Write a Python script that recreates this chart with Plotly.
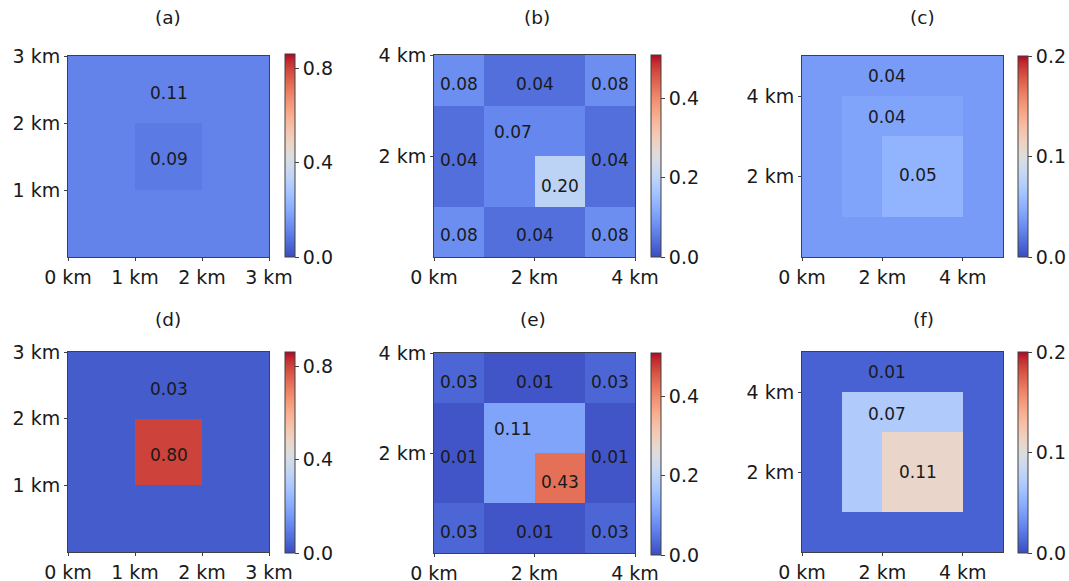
import plotly.graph_objects as go

# ---------------- data ----------------
panel_titles = ["(a)", "(b)", "(c)", "(d)", "(e)", "(f)"]

# grid values (rows listed bottom -> top, 1 km cells)
grid_a = [[0.11, 0.11, 0.11],
          [0.11, 0.09, 0.11],
          [0.11, 0.11, 0.11]]
grid_b = [[0.08, 0.04, 0.04, 0.08],
          [0.04, 0.07, 0.20, 0.04],
          [0.04, 0.07, 0.07, 0.04],
          [0.08, 0.04, 0.04, 0.08]]
grid_c = [[0.038, 0.038, 0.038, 0.038, 0.038],
          [0.038, 0.043, 0.053, 0.053, 0.038],
          [0.038, 0.043, 0.053, 0.053, 0.038],
          [0.038, 0.043, 0.043, 0.043, 0.038],
          [0.038, 0.038, 0.038, 0.038, 0.038]]
grid_d = [[0.03, 0.03, 0.03],
          [0.03, 0.80, 0.03],
          [0.03, 0.03, 0.03]]
grid_e = [[0.03, 0.01, 0.01, 0.03],
          [0.01, 0.11, 0.43, 0.01],
          [0.01, 0.11, 0.11, 0.01],
          [0.03, 0.01, 0.01, 0.03]]
grid_f = [[0.01, 0.01, 0.01, 0.01, 0.01],
          [0.01, 0.07, 0.11, 0.11, 0.01],
          [0.01, 0.07, 0.11, 0.11, 0.01],
          [0.01, 0.07, 0.07, 0.07, 0.01],
          [0.01, 0.01, 0.01, 0.01, 0.01]]

# value labels: (text, x km, y km)
labels_a = [("0.11", 1.5, 2.45), ("0.09", 1.5, 1.46)]
labels_b = [("0.08", 0.5, 3.42), ("0.04", 2.0, 3.42), ("0.08", 3.5, 3.42),
            ("0.07", 1.58, 2.47), ("0.04", 0.5, 1.93), ("0.04", 3.5, 1.93),
            ("0.20", 2.5, 1.41),
            ("0.08", 0.5, 0.43), ("0.04", 2.0, 0.43), ("0.08", 3.5, 0.43)]
labels_c = [("0.04", 2.125, 4.5), ("0.04", 2.125, 3.48), ("0.05", 2.875, 2.03)]
labels_d = [("0.03", 1.5, 2.45), ("0.80", 1.5, 1.46)]
labels_e = [("0.03", 0.5, 3.42), ("0.01", 2.0, 3.42), ("0.03", 3.5, 3.42),
            ("0.11", 1.58, 2.48), ("0.01", 0.5, 1.93), ("0.01", 3.5, 1.93),
            ("0.43", 2.5, 1.42),
            ("0.03", 0.5, 0.43), ("0.01", 2.0, 0.43), ("0.03", 3.5, 0.43)]
labels_f = [("0.01", 2.125, 4.5), ("0.07", 2.125, 3.46), ("0.11", 2.875, 1.99)]

# axis ticks (km)
xticks_3 = [0, 1, 2, 3]
yticks_3 = [1, 2, 3]
xticks_45 = [0, 2, 4]
yticks_45 = [2, 4]

# colour bar ranges and ticks
vmax_list = [0.86, 0.51, 0.2, 0.86, 0.51, 0.2]
cbar_ticks = [[0.0, 0.4, 0.8], [0.0, 0.2, 0.4], [0.0, 0.1, 0.2],
              [0.0, 0.4, 0.8], [0.0, 0.2, 0.4], [0.0, 0.1, 0.2]]

# matplotlib-like coolwarm
coolwarm_rgb = [(59, 76, 192), (68, 90, 204), (77, 104, 215), (87, 117, 225), (98, 130, 234),
                (108, 142, 241), (119, 154, 247), (130, 165, 251), (141, 176, 254), (152, 185, 255),
                (163, 194, 255), (174, 201, 253), (184, 208, 249), (194, 213, 244), (204, 217, 238),
                (213, 219, 230), (221, 221, 221), (229, 216, 209), (236, 211, 197), (241, 204, 185),
                (245, 196, 173), (247, 187, 160), (247, 177, 148), (247, 166, 135), (244, 154, 123),
                (241, 141, 111), (236, 127, 99), (229, 112, 88), (222, 96, 77), (213, 80, 66),
                (203, 62, 56), (192, 40, 47), (180, 4, 38)]
coolwarm = [[i / (len(coolwarm_rgb) - 1), "rgb(%d,%d,%d)" % c] for i, c in enumerate(coolwarm_rgb)]

# ---------------- layout (pixels, page coordinates) ----------------
W, H = 1069, 581
FONT = "DejaVu Sans"
TXT = "#1a1a1a"
LINE = "#404040"
TICK_SIZE = 19
LABEL_SIZE = 17
TITLE_SIZE = 18.5

grids = [grid_a, grid_b, grid_c, grid_d, grid_e, grid_f]
labels = [labels_a, labels_b, labels_c, labels_d, labels_e, labels_f]
xticks = [xticks_3, xticks_45, xticks_45, xticks_3, xticks_45, xticks_45]
yticks = [yticks_3, yticks_45, yticks_45, yticks_3, yticks_45, yticks_45]

# plot boxes: (x0, x1, ytop, ybottom) in page pixels
boxes = [(68, 269, 56, 257), (434, 635, 55, 257), (802, 1003, 56, 257),
         (68, 269, 352, 552), (434, 635, 353, 553), (802, 1003, 352, 552)]
cbar_x = [285, 651, 1018, 285, 651, 1018]
cbar_y = [(54, 257), (55, 257), (56, 257), (352, 553), (353, 555), (352, 553)]
title_pos = [(168, 17), (537, 17), (922, 17), (168, 319), (533, 319), (923, 319)]


def px(x):
    return x / W


def py(y):
    return 1 - y / H


fig = go.Figure()
layout = dict(width=W, height=H, margin=dict(l=0, r=0, t=0, b=0, autoexpand=False),
              paper_bgcolor="white", plot_bgcolor="white",
              font=dict(family=FONT, color=TXT, size=TICK_SIZE), showlegend=False)
annotations = []

for i in range(6):
    g = grids[i]
    n = len(g)
    centers = [k + 0.5 for k in range(n)]
    xa = "x" if i == 0 else "x%d" % (i + 1)
    ya = "y" if i == 0 else "y%d" % (i + 1)
    ca = "coloraxis" if i == 0 else "coloraxis%d" % (i + 1)
    fig.add_trace(go.Heatmap(z=g, x=centers, y=centers, xaxis=xa, yaxis=ya,
                             coloraxis=ca, hoverinfo="skip"))
    x0, x1, yt, yb = boxes[i]
    axkw = dict(showgrid=False, zeroline=False, showline=True, mirror=True,
                linecolor=LINE, linewidth=1, ticks="outside", ticklen=3,
                tickcolor=LINE, tickfont=dict(size=TICK_SIZE, color=TXT, family=FONT),
                range=[0, n], fixedrange=True, automargin=False)
    xkey = "xaxis" if i == 0 else "xaxis%d" % (i + 1)
    ykey = "yaxis" if i == 0 else "yaxis%d" % (i + 1)
    layout[xkey] = dict(axkw, domain=[px(x0), px(x1)], anchor=ya,
                        tickvals=xticks[i], ticktext=["%d km" % t for t in xticks[i]])
    layout[ykey] = dict(axkw, domain=[py(yb), py(yt)], anchor=xa,
                        tickvals=yticks[i], ticktext=["%d km" % t for t in yticks[i]])
    cy0, cy1 = cbar_y[i]
    layout[ca] = dict(cmin=0, cmax=vmax_list[i], colorscale=coolwarm,
                      colorbar=dict(x=px(cbar_x[i]), xanchor="left", xpad=0, ypad=0,
                                    y=py((cy0 + cy1) / 2), yanchor="middle",
                                    len=cy1 - cy0, lenmode="pixels",
                                    thickness=10, thicknessmode="pixels",
                                    outlinewidth=1, outlinecolor=LINE,
                                    tickvals=cbar_ticks[i],
                                    ticktext=["%.1f" % t for t in cbar_ticks[i]],
                                    ticks="outside", ticklen=4, tickcolor=LINE,
                                    tickfont=dict(size=TICK_SIZE, color=TXT, family=FONT)))
    for (t, lx, ly) in labels[i]:
        annotations.append(dict(text=t, x=lx, y=ly, xref=xa, yref=ya, showarrow=False,
                                font=dict(size=LABEL_SIZE, color=TXT, family=FONT),
                                xanchor="center", yanchor="middle"))
    tx, ty = title_pos[i]
    annotations.append(dict(text=panel_titles[i], x=px(tx), y=py(ty), xref="paper",
                            yref="paper", showarrow=False, xanchor="center", yanchor="middle",
                            font=dict(size=TITLE_SIZE, color=TXT, family=FONT)))

layout["annotations"] = annotations
fig.update_layout(**layout)
fig.write_html("out.html", config={"displayModeBar": False},
               post_script="document.body.style.margin='0';document.body.style.overflow='hidden';")
